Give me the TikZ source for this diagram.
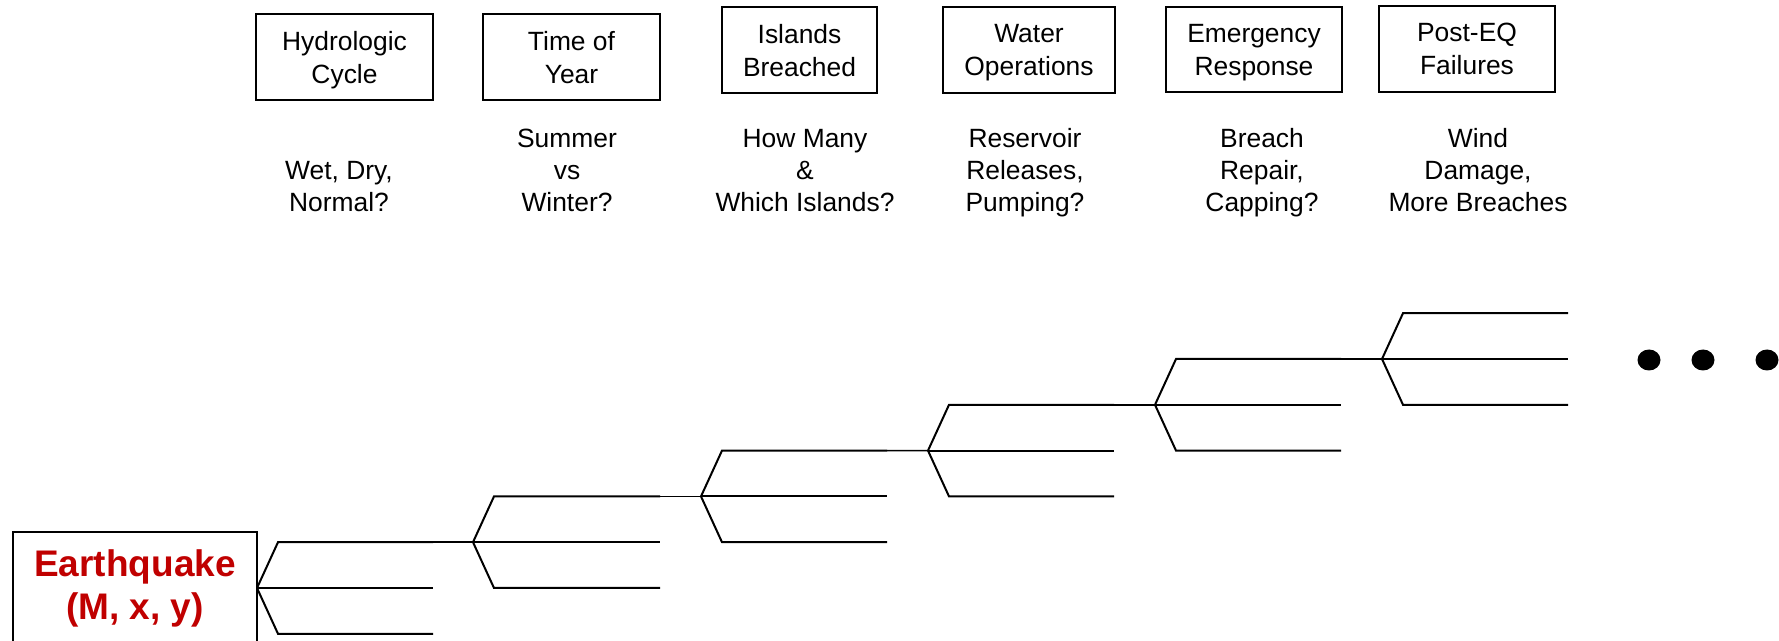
\documentclass[tikz,border=0pt]{standalone}
\usepackage{fontspec}
\setmainfont{Liberation Sans}
\definecolor{quakered}{RGB}{192,0,0}

\begin{document}
\begin{tikzpicture}[x=0.5pt,y=-0.5pt,
    stagebox/.style={draw,line width=0.65pt,inner sep=0pt,align=center,text depth=0pt,
      font=\fontsize{13.2}{16.5}\selectfont},
    question/.style={align=center,inner sep=0pt,anchor=south,text depth=0pt,
      font=\fontsize{13.2}{16}\selectfont},
    branch/.style={line width=1pt},
    stub/.style={line width=0.8pt}]
  \useasboundingbox (0,0) rectangle (1779,641);

  % Initiating event
  \node[draw,line width=0.65pt,minimum width=122pt,minimum height=56pt,
        align=center,text=quakered,font=\fontsize{18.5}{21.5}\selectfont\bfseries]
        (quake) at (135,588) {Earthquake\\(M, x, y)};

  % Stage boxes along the top
  \node[stagebox,minimum width=88.5pt,minimum height=43pt] (hydro) at (344.5,57) {Hydrologic\\Cycle};
  \node[stagebox,minimum width=88.5pt,minimum height=43pt] (season) at (571.5,57) {Time of\\Year};
  \node[stagebox,minimum width=77.5pt,minimum height=43pt] (islands) at (799.5,50) {Islands\\Breached};
  \node[stagebox,minimum width=86pt,minimum height=43pt] (water) at (1029,50) {Water\\Operations};
  \node[stagebox,minimum width=88pt,minimum height=42.5pt] (response) at (1254,49.5) {Emergency\\Response};
  \node[stagebox,minimum width=88pt,minimum height=43pt] (posteq) at (1467,49) {Post-EQ\\Failures};

  % Questions under each stage
  \node[question] (wet) at (339,212) {Wet, Dry,\\Normal?};
  \node[question] (summer) at (567,212) {Summer\\vs\\Winter?};
  \node[question] (howmany) at (805,212) {How Many\\\&\\Which Islands?};
  \node[question] (reservoir) at (1025,212) {Reservoir\\Releases,\\Pumping?};
  \node[question] (repair) at (1262,212) {Breach\\Repair,\\Capping?};
  \node[question] (wind) at (1478,212) {Wind\\Damage,\\More Breaches};

  % Event tree: one fork per stage
  \foreach \n/\x/\y/\e in {1/257/588/433, 2/473/542.2/660, 3/701/496.4/887,
                           4/928/450.6/1114, 5/1155/404.8/1341, 6/1382/359/1568} {
    \coordinate (r\n) at (\x,\y);
    \coordinate (u\n) at (\e,\y-45.8);
    \coordinate (m\n) at (\e,\y);
    \coordinate (d\n) at (\e,\y+45.8);
    \draw[branch] (r\n) -- ++(21,-45.8) -- (u\n);
    \draw[branch] (r\n) -- (m\n);
    \draw[branch] (r\n) -- ++(21,45.8) -- (d\n);
  }

  % Upper branch feeds the next fork
  \foreach \a/\b in {1/2,2/3,3/4,4/5,5/6}
    \draw[stub] (u\a) -- (r\b);

  % More stages follow
  \foreach \x in {1649,1703,1767}
    \fill (\x,360) ellipse[x radius=5.75pt,y radius=5.25pt];

\end{tikzpicture}
\end{document}
